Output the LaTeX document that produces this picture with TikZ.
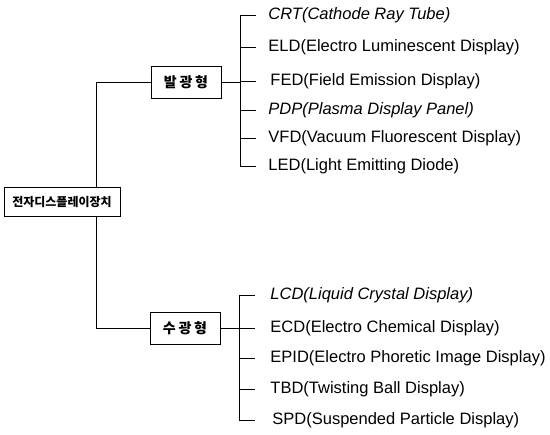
\documentclass[tikz,border=0pt]{standalone}
\usepackage{fontspec}
\setmainfont{Liberation Sans}
\newfontfamily\krfont{Noto Sans CJK KR}
\newfontfamily\krspaced{Noto Sans CJK KR}[LetterSpace=20]
\begin{document}
\begin{tikzpicture}[x=1pt,y=-1pt,line width=0.9pt,
    rootbox/.style={draw,minimum width=116pt,minimum height=29pt,inner sep=0pt,font=\krfont\bfseries\fontsize{12}{14}\selectfont},
    groupbox/.style={draw,minimum width=70pt,minimum height=32pt,inner sep=0pt,font=\krspaced\bfseries\fontsize{14}{16}\selectfont},
    item/.style={anchor=west,inner sep=0pt,font=\fontsize{16.5}{18}\selectfont}]
    \useasboundingbox (0,0) rectangle (550,435);
    % boxes
    \node[rootbox] (disp) at (62,202) {전자디스플레이장치};
    \node[groupbox] (emit) at (186,82) {발광형};
    \node[groupbox] (recv) at (185,328) {수광형};
    \coordinate (trunk) at (96,202);
    % line
    \draw (disp.north -| trunk) |- (emit.west);
    \draw (disp.south -| trunk) |- (recv.west);
    % lecter (emissive)
    \node[item] (crt) at (268,15) {\itshape CRT(Cathode Ray Tube)};
    \node[item] (eld) at (268,47) {ELD(Electro Luminescent Display)};
    \node[item] (fed) at (270,81) {FED(Field Emission Display)};
    \node[item] (pdp) at (268,110) {\itshape PDP(Plasma Display Panel)};
    \node[item] (vfd) at (268,138) {VFD(Vacuum Fluorescent Display)};
    \node[item] (led) at (268,166) {LED(Light Emitting Diode)};
    % lecter (non-emissive)
    \node[item] (lcd) at (270,295) {\itshape LCD(Liquid Crystal Display)};
    \node[item] (ecd) at (270,328) {ECD(Electro Chemical Display)};
    \node[item] (epid) at (270,358) {EPID(Electro Phoretic Image Display)};
    \node[item] (tbd) at (270,389) {TBD(Twisting Ball Display)};
    \node[item] (spd) at (272,420) {SPD(Suspended Particle Display)};
    % bracket
    \coordinate (brkA) at (240,82);\coordinate (brkB) at (239,328);
    \draw (emit.east) -- (brkA);\draw (recv.east) -- (brkB);
    \draw (brkA |- crt.west) -- (brkA |- led.west);
    \draw (brkB |- lcd.west) -- (brkB |- spd.west);
    \foreach \n in {crt,eld,fed,pdp,vfd,led} \draw (brkA |- \n.west) -- ++(16,0);
    \foreach \n in {lcd,ecd,epid,tbd,spd} \draw (brkB |- \n.west) -- ++(16,0);
\end{tikzpicture}
\end{document}
